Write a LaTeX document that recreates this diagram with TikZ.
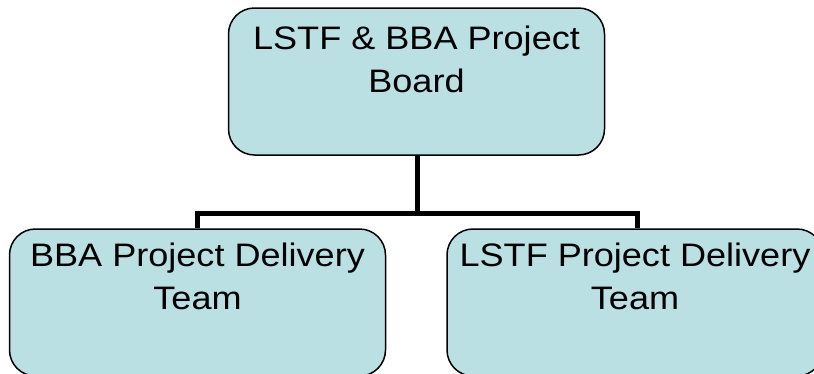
\documentclass[tikz,border=0pt]{standalone}
\usepackage{fontspec}
\setmainfont{Liberation Sans}
\definecolor{boxfill}{RGB}{187,224,227}
\begin{document}
\begin{tikzpicture}[x=1pt,y=-1pt,
  orgbox/.style={draw=black, line width=1.5pt, fill=boxfill, rounded corners=26pt,
    minimum width=376pt, minimum height=147pt, inner sep=0pt},
  boxtext/.style={anchor=north, align=center, inner sep=0pt, transform shape, xscale=1.11,
    font=\fontsize{32.5}{43}\selectfont},
  link/.style={line width=5pt}]
\useasboundingbox (0,0) rectangle (814,373);
\clip (0,0) rectangle (814,373);
\node[orgbox] (board) at (416.5,81.5) {};
\node[orgbox] (bba) at (197.5,302.5) {};
\node[orgbox] (lstf) at (635,302.5) {};
\node[boxtext] (boardtxt) at ([yshift=-18pt]board.north) {LSTF \& BBA Project\\Board};
\node[boxtext] (bbatxt) at ([yshift=-14pt]bba.north) {BBA Project Delivery\\Team};
\node[boxtext] (lstftxt) at ([yshift=-14pt]lstf.north) {LSTF Project Delivery\\Team};
\coordinate (mid) at (417,213);
\draw[link] (board.south -| mid) -- (mid);
\draw[link] (bba.north) |- (mid) -| ([xshift=2pt]lstf.north);
\end{tikzpicture}
\end{document}
